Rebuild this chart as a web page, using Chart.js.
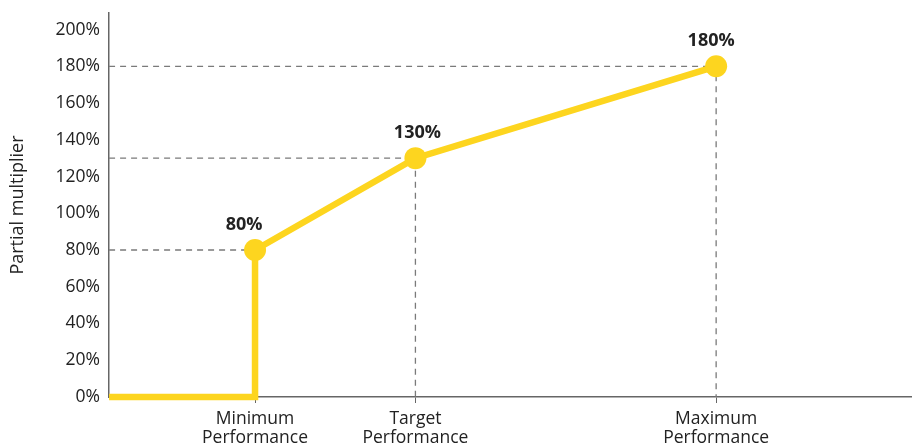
<!DOCTYPE html>
<html>
<head>
<meta charset="utf-8">
<script src="https://cdn.jsdelivr.net/npm/chart.js@4/dist/chart.umd.min.js"></script>
<style>
html,body{margin:0;padding:0;background:#fff;overflow:hidden;}
#wrap{width:913px;height:443px;position:relative;}
canvas{display:block;}
</style>
</head>
<body>
<div id="wrap"><canvas id="c"></canvas></div>
<script>
// Performance levels (x on a 0-100 scale) and multipliers (%)
const levelNames = [["Minimum","Performance"],["Target","Performance"],["Maximum","Performance"]];
const levelX = [18.2, 38.2, 75.7];
const multipliers = [80, 130, 180];
const xRange = [0, 100];
const yRange = [0, 209];
const yStep = 20;

const YELLOW = '#FDD51F';
const DASH = '#7a7a7a';
const TEXT = '#222222';
const FONT = "'Open Sans', sans-serif";
const LABEL_DX = [-11, 2, -5]; // horizontal nudge of value labels (style)

// Main payout curve: zero up to the minimum, then jump and linear between levels
const curve = [{x: xRange[0], y: 0}, {x: levelX[0], y: 0}];
levelX.forEach((x, i) => curve.push({x: x, y: multipliers[i]}));
const keyStart = 2;

const datasets = [{
  data: curve,
  borderColor: YELLOW,
  backgroundColor: YELLOW,
  borderWidth: 6.5,
  pointRadius: c => c.dataIndex >= keyStart ? 11 : 0,
  pointHoverRadius: c => c.dataIndex >= keyStart ? 11 : 0,
  pointBorderWidth: 0,
  tension: 0,
  order: 0,
  clip: false
}];
levelX.forEach((x, i) => {
  datasets.push({
    data: [{x: xRange[0], y: multipliers[i]}, {x: x, y: multipliers[i]}, {x: x, y: 0}],
    borderColor: DASH,
    borderWidth: 1.3,
    borderDash: [6, 5],
    pointRadius: 0,
    tension: 0,
    order: 1
  });
});

const valueLabels = {
  id: 'valueLabels',
  afterDatasetsDraw(chart) {
    const meta = chart.getDatasetMeta(0);
    const ctx = chart.ctx;
    ctx.save();
    ctx.font = "bold 18px " + FONT;
    ctx.fillStyle = TEXT;
    ctx.textAlign = 'center';
    ctx.textBaseline = 'alphabetic';
    for (let i = keyStart; i < meta.data.length; i++) {
      const p = meta.data[i];
      ctx.fillText(curve[i].y + '%', p.x + LABEL_DX[i - keyStart], p.y - 20);
    }
    ctx.restore();
  }
};

new Chart(document.getElementById('c'), {
  type: 'line',
  data: { datasets: datasets },
  plugins: [valueLabels],
  options: {
    responsive: true,
    maintainAspectRatio: false,
    animation: false,
    events: [],
    layout: { autoPadding: false, padding: { top: 13, right: 2, left: 7, bottom: 0 } },
    plugins: { legend: { display: false }, tooltip: { enabled: false } },
    scales: {
      x: {
        type: 'linear',
        min: xRange[0],
        max: xRange[1],
        afterBuildTicks: s => { s.ticks = levelX.map(v => ({value: v})); },
        afterFit: s => { s.height = 46; s.paddingLeft = 0; s.paddingRight = 0; },
        ticks: {
          callback: (v, i) => levelNames[i],
          color: TEXT,
          font: { family: FONT, size: 17.5, lineHeight: 1.1 },
          padding: 6,
          maxRotation: 0,
          autoSkip: false
        },
        grid: { drawOnChartArea: false, drawTicks: true, tickLength: 6, color: '#666' },
        border: { display: true, color: '#666', width: 1.5 }
      },
      y: {
        type: 'linear',
        min: yRange[0],
        max: yRange[1],
        afterFit: s => { s.paddingTop = 0; s.paddingBottom = 0; },
        ticks: {
          stepSize: yStep,
          includeBounds: false,
          callback: v => v + '%',
          color: TEXT,
          font: { family: FONT, size: 17.5 },
          padding: 9
        },
        grid: { display: false, drawTicks: false },
        border: { display: true, color: '#666', width: 1.5 },
        title: {
          display: true,
          text: 'Partial multiplier',
          color: TEXT,
          font: { family: FONT, size: 18 },
          padding: { top: 0, bottom: 18 }
        }
      }
    }
  }
});
</script>
</body>
</html>
